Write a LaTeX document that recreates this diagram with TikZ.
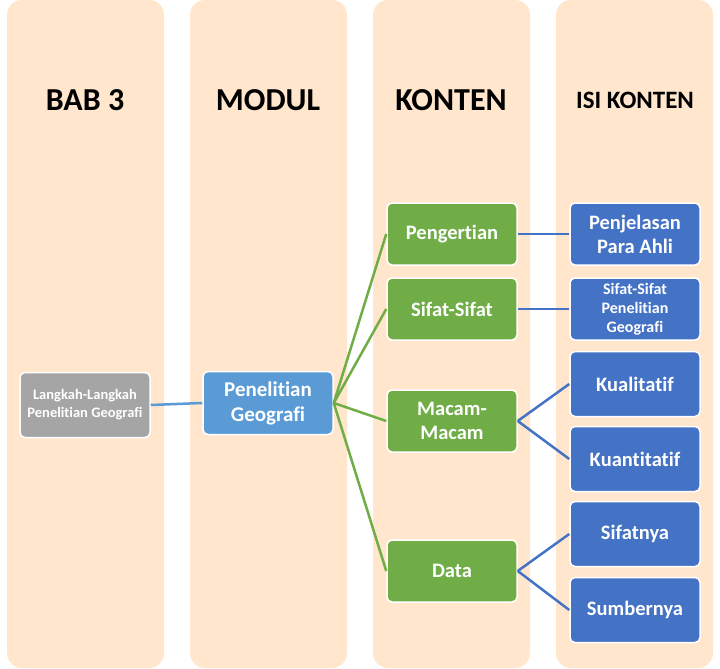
\documentclass[tikz,border=0pt]{standalone}
\usepackage{fontspec}
\setmainfont[Ligatures=NoCommon]{Carlito}
\usepackage{xcolor}
\usepackage{tikz}
\definecolor{kolom}{HTML}{FFE6CC}
\definecolor{abu}{HTML}{A5A5A5}
\definecolor{biru_m}{HTML}{5B9BD5}
\definecolor{hijau}{HTML}{70AD47}
\definecolor{biru_t}{HTML}{4472C4}
\tikzstyle{kol_h} = [black, font=\bfseries\fontsize{32}{38}\selectfont, inner sep=0pt]
\tikzstyle{box} = [rectangle, rounded corners=5pt, draw=white, line width=1.5pt, text=white, align=center, inner sep=1pt, minimum width=130pt, minimum height=62pt, font=\bfseries\fontsize{20.5}{24}\selectfont]
\tikzstyle{box_abu} = [box, fill=abu, minimum height=65pt, font=\bfseries\fontsize{14.5}{18}\selectfont]
\tikzstyle{box_m} = [box, fill=biru_m, minimum height=63pt, font=\bfseries\fontsize{21}{25}\selectfont]
\tikzstyle{box_h} = [box, fill=hijau]
\tikzstyle{box_b} = [box, fill=biru_t]
\tikzstyle{con_m} = [draw=biru_m, line width=2.5pt]
\tikzstyle{con_h} = [draw=hijau, line width=2.5pt]
\tikzstyle{con_b} = [draw=biru_t, line width=2.5pt]
\begin{document}
\begin{tikzpicture}[x=1pt, y=-1pt]
\useasboundingbox (0,0) rectangle (720,669);
% kolom latar
\foreach \xa in {7,190,373,556}
    \fill[kolom, rounded corners=15pt] (\xa,0) rectangle ++(157,668);
% judul kolom
\node [kol_h] (h_bab) at (85,100) {BAB 3};
\node [kol_h] (h_modul) at (268,100) {MODUL};
\node [kol_h] (h_konten) at (451,100) {KONTEN};
\node [kol_h, font=\bfseries\fontsize{25}{30}\selectfont] (h_isi) at (635,100) {ISI KONTEN};
% bab & modul
\node [box_abu] (langkah) at (85,405) {Langkah-Langkah\\Penelitian Geografi};
\node [box_m] (penelitian) at (268,403) {Penelitian\\Geografi};
% konten
\node [box_h] (pengertian) at (452,234) {Pengertian};
\node [box_h] (sifat) at (452,309) {Sifat-Sifat};
\node [box_h] (macam) at (452,421) {Macam-\\Macam};
\node [box_h] (data) at (452,571) {Data};
% isi konten
\node [box_b] (ahli) at (635,234) {Penjelasan\\Para Ahli};
\node [box_b, font=\bfseries\fontsize{16}{19}\selectfont] (sifat_isi) at (635,309) {Sifat-Sifat\\Penelitian\\Geografi};
\node [box_b, minimum height=65pt] (kuali) at (635,384) {Kualitatif};
\node [box_b, minimum height=65pt] (kuanti) at (635,459) {Kuantitatif};
\node [box_b, minimum height=65pt] (sifatnya) at (635,534) {Sifatnya};
\node [box_b, minimum height=65pt] (sumber) at (635,610) {Sumbernya};
% garis
\draw [con_m] (langkah.east) -- (penelitian.west);
\foreach \k in {pengertian,sifat,macam,data}
    \draw [con_h] (penelitian.east) -- (\k.west);
\draw [con_b] (pengertian.east) -- (ahli.west);
\draw [con_b] (sifat.east) -- (sifat_isi.west);
\draw [con_b] (macam.east) -- (kuali.west);
\draw [con_b] (macam.east) -- (kuanti.west);
\draw [con_b] (data.east) -- (sifatnya.west);
\draw [con_b] (data.east) -- (sumber.west);
\end{tikzpicture}
\end{document}
